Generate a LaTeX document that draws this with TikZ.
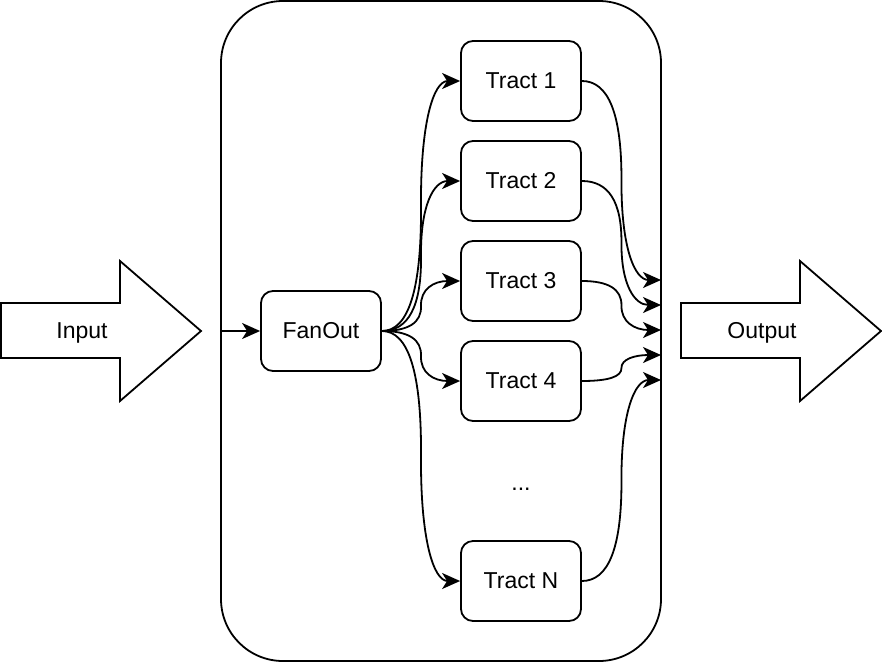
\documentclass[tikz,border=0pt]{standalone}
\usepackage{fontspec}
\setmainfont{Liberation Sans}
\usetikzlibrary{arrows.meta,calc}
\begin{document}
\begin{tikzpicture}[x=1pt,y=-1pt,
  every node/.style={font=\fontsize{23}{27}\selectfont},
  tractbox/.style={draw,line width=1.8pt,rounded corners=12pt,minimum width=120pt,minimum height=80pt,inner sep=0pt},
  lbl/.style={yshift=-1.5pt},
  conn/.style={line width=1.8pt,-{Stealth[length=18pt,width=16pt,inset=5pt]}},
  bigarrow/.style={draw,line width=1.8pt,line join=miter}]
\useasboundingbox (0,0) rectangle (882,662);
% container
\draw[line width=1.8pt,rounded corners=62pt] (221,1) rectangle (661,661);
% input / output arrows
\draw[bigarrow] (1,303) -- (120,303) -- (120,261) -- (201,331) -- (120,401) -- (120,358) -- (1,358) -- cycle;
\node[lbl] (in) at (82,331) {Input};
\draw[bigarrow] (681,303) -- (800,303) -- (800,261) -- (881,331) -- (800,401) -- (800,358) -- (681,358) -- cycle;
\node[lbl] (out) at (762,331) {Output};
\coordinate (entry) at (221,331);
% nodes
\node[tractbox] (fan) at (321,331) {\raisebox{-1.5pt}{FanOut}};
\node[tractbox] (t1) at (521,81) {\raisebox{-1.5pt}{Tract 1}};
\node[tractbox] (t2) at (521,181) {\raisebox{-1.5pt}{Tract 2}};
\node[tractbox] (t3) at (521,281) {\raisebox{-1.5pt}{Tract 3}};
\node[tractbox] (t4) at (521,381) {\raisebox{-1.5pt}{Tract 4}};
\node (dots) at (521,489) {...};
\node[tractbox] (tn) at (521,581) {\raisebox{-1.5pt}{Tract N}};
\draw[conn] (entry) -- (fan.west);
% fan out
\foreach \t in {t1,t2,t3,t4,tn}{
  \coordinate (s) at (fan.east);
  \coordinate (e) at (\t.west);
  \coordinate (p1) at ($(s)+(40,0)$);
  \coordinate (p2) at ($(e)+(-40,0)$);
  \coordinate (m) at ($(p1)!0.5!(p2)$);
  \draw[conn] (s) .. controls ($(s)!2/3!(p1)$) and ($(m)!2/3!(p1)$) .. (m)
     .. controls ($(m)!2/3!(p2)$) and ($(e)!2/3!(p2)$) .. (e);
}
% fan in
\coordinate (o1) at (661,280);
\coordinate (o2) at (661,305);
\coordinate (o3) at (661,330);
\coordinate (o4) at (661,355);
\coordinate (o5) at (661,380);
\foreach \t/\o in {t1/o1,t2/o2,t3/o3,t4/o4,tn/o5}{
  \coordinate (s) at (\t.east);
  \coordinate (e) at (\o);
  \coordinate (p1) at ($(s)+(40,0)$);
  \coordinate (p2) at ($(e)+(-40,0)$);
  \coordinate (m) at ($(p1)!0.5!(p2)$);
  \draw[conn] (s) .. controls ($(s)!2/3!(p1)$) and ($(m)!2/3!(p1)$) .. (m)
     .. controls ($(m)!2/3!(p2)$) and ($(e)!2/3!(p2)$) .. (e);
}
\end{tikzpicture}
\end{document}
